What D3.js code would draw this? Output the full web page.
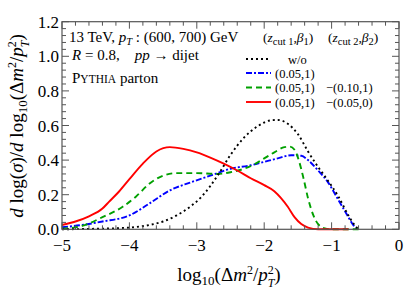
<!DOCTYPE html>
<html><head><meta charset="utf-8">
<script src="https://cdn.jsdelivr.net/npm/d3@7"></script>
<style>
body{margin:0;background:#fff;}
svg{display:block;font-family:"Liberation Serif","DejaVu Serif",serif;}
text{white-space:pre;}
</style></head>
<body><svg id="c" width="407" height="292"></svg>
<script>
// ---- data ----
const seriesNames = ["w/o", "(0.05,1)", "(0.05,1)", "(0.05,1)"];
const seriesNames2 = ["", "", "−(0.10,1)", "−(0.05,0)"];
const seriesColors = ["#000000", "#0000ff", "#00a000", "#ff0000"];
const xWo   = [-5,-4.5,-4,-3.7,-3.5,-3.3,-3.1,-2.95,-2.8,-2.66,-2.5,-2.3,-2.1,-1.9,-1.8,-1.65,-1.5,-1.35,-1.2,-1.07,-0.9,-0.75,-0.65,-0.6];
const yWo   = [0.0,0.003,0.01,0.025,0.045,0.08,0.13,0.18,0.25,0.33,0.43,0.53,0.595,0.63,0.632,0.61,0.55,0.45,0.36,0.29,0.19,0.08,0.02,0.0];
const xBlue = [-5,-4.7,-4.4,-4,-3.7,-3.4,-3.1,-2.8,-2.5,-2.2,-2.0,-1.8,-1.6,-1.45,-1.35,-1.2,-1.05,-0.9,-0.78,-0.68,-0.62];
const yBlue = [0.012,0.025,0.045,0.08,0.15,0.225,0.27,0.31,0.35,0.37,0.39,0.41,0.428,0.425,0.4,0.34,0.27,0.17,0.09,0.025,0.0];
const xGreen = [-5,-4.7,-4.4,-4.1,-3.9,-3.7,-3.5,-3.3,-3.0,-2.7,-2.5,-2.3,-2.15,-2.0,-1.85,-1.7,-1.62,-1.55,-1.48,-1.42,-1.35,-1.27,-1.2,-1.1,-1.0,-0.6];
const yGreen = [0.003,0.02,0.07,0.13,0.19,0.265,0.31,0.325,0.325,0.32,0.33,0.35,0.375,0.41,0.445,0.475,0.478,0.46,0.39,0.3,0.18,0.08,0.03,0.005,0.0,0.0];
const xRed = [-5,-4.8,-4.6,-4.4,-4.3,-4.15,-4.0,-3.8,-3.6,-3.4,-3.2,-3.0,-2.8,-2.6,-2.4,-2.2,-2.0,-1.85,-1.75,-1.65,-1.55,-1.45,-1.35,-1.2,-0.75];
const yRed = [0.025,0.045,0.075,0.12,0.16,0.22,0.29,0.38,0.45,0.475,0.465,0.445,0.415,0.38,0.34,0.295,0.255,0.22,0.18,0.13,0.07,0.03,0.01,0.0,0.0];
const xTickLabels = ["−5","−4","−3","−2","−1","0"];
const yTickLabels = ["0.0","0.2","0.4","0.6","0.8","1.0","1.2"];
const xTickValues = [-5,-4,-3,-2,-1,0];
const yTickValues = [0,0.2,0.4,0.6,0.8,1.0,1.2];

const svg = d3.select("#c");
const L=62, R=399, T=21.7, B=229.3;
const x = d3.scaleLinear().domain([-5,0]).range([L,R]);
const y = d3.scaleLinear().domain([0,1.2]).range([B,T]);

// curves
const series = [[xWo,yWo],[xBlue,yBlue],[xGreen,yGreen],[xRed,yRed]];
const dashes = ["2,3","6,2,2,2","6,4",null];
const line = d3.line().x(d=>x(d[0])).y(d=>y(d[1])).curve(d3.curveMonotoneX);
const g = svg.append("g");
[1,2,3,0].forEach(i=>{
  const pts = series[i][0].map((v,k)=>[v, series[i][1][k]]);
  const p = g.append("path").attr("d", line(pts)).attr("fill","none")
    .attr("stroke", seriesColors[i]).attr("stroke-width", 1.9);
  if (dashes[i]) p.attr("stroke-dasharray", dashes[i]);
});

// frame + ticks
const minorX = d3.range(-5, 0.001, 0.2).map(v=>+v.toFixed(2));
const minorY = d3.range(0, 1.2001, 0.04).map(v=>+v.toFixed(2));
const ax = svg.append("g").attr("stroke","#555").attr("stroke-width",1);
function isMajor(v,step){return Math.abs(v/step - Math.round(v/step))<1e-6;}
minorX.forEach(v=>{
  const len = isMajor(v,1)?7:4;
  ax.append("line").attr("x1",x(v)).attr("x2",x(v)).attr("y1",B).attr("y2",B-len);
  ax.append("line").attr("x1",x(v)).attr("x2",x(v)).attr("y1",T).attr("y2",T+len);
});
minorY.forEach(v=>{
  const len = isMajor(v,0.2)?7:4;
  ax.append("line").attr("y1",y(v)).attr("y2",y(v)).attr("x1",L).attr("x2",L+len);
  ax.append("line").attr("y1",y(v)).attr("y2",y(v)).attr("x1",R).attr("x2",R-len);
});
svg.append("rect").attr("x",L).attr("y",T).attr("width",R-L).attr("height",B-T)
  .attr("fill","none").attr("stroke","#555").attr("stroke-width",1.2);

// tick labels
xTickValues.forEach((v,i)=>{
  svg.append("text").attr("x",x(v)).attr("y",B+22).attr("text-anchor","middle")
    .attr("font-size",17).text(xTickLabels[i]);
});
yTickValues.forEach((v,i)=>{
  svg.append("text").attr("x",L-3).attr("y",y(v)+6).attr("text-anchor","end")
    .attr("font-size",17).text(yTickLabels[i]);
});

// helper for rich text
function rich(sel, parts){
  parts.forEach(p=>{
    const t = sel.append("tspan").text(p.t);
    if (p.i) t.attr("font-style","italic");
    if (p.s) t.attr("font-size", p.s);
    if (p.dy) t.attr("dy", p.dy);
    if (p.dx) t.attr("dx", p.dx);
  });
}
const tail = [{t:"(Δ",dy:-4},{t:"m",i:1},{t:"2",s:12,dy:-7.5},{t:"/",dy:7.5},{t:"p",i:1},{t:"2",s:12,dy:-7.5},{t:"T",s:12,i:1,dy:13,dx:-6},{t:")",dy:-5.5}];

// x axis title
const xt = svg.append("text").attr("x",229).attr("y",281).attr("text-anchor","middle").attr("font-size",19);
rich(xt,[{t:"log"},{t:"10",s:13,dy:4}].concat(tail));

// y axis title
const yt = svg.append("text").attr("transform","translate(23,126) rotate(-90)").attr("text-anchor","middle").attr("font-size",19);
rich(yt,[{t:"d",i:1},{t:" log("},{t:"σ",i:1},{t:")/"},{t:"d",i:1},{t:" log"},{t:"10",s:13,dy:4}].concat(tail));

// annotations
const a1 = svg.append("text").attr("x",69).attr("y",42).attr("font-size",15);
rich(a1,[{t:"13 TeV, "},{t:"p",i:1},{t:"T",i:1,s:10.5,dy:3},{t:" : (600, 700) GeV",dy:-3}]);
const a2 = svg.append("text").attr("x",72).attr("y",60).attr("font-size",15);
rich(a2,[{t:"R",i:1},{t:" = 0.8,    "},{t:"pp",i:1},{t:" → dijet"}]);
const a3 = svg.append("text").attr("x",72).attr("y",83).attr("font-size",15);
rich(a3,[{t:"P"},{t:"YTHIA",s:11.5},{t:" parton"}]);

// legend header
const lh1 = svg.append("text").attr("x",263).attr("y",42).attr("font-size",13.5);
rich(lh1,[{t:"("},{t:"z",i:1},{t:"cut 1",s:10.5,dy:3},{t:",",dy:-3},{t:"β",i:1},{t:"1",s:10.5,dy:3},{t:")",dy:-3}]);
const lh2 = svg.append("text").attr("x",328).attr("y",42).attr("font-size",13.5);
rich(lh2,[{t:"("},{t:"z",i:1},{t:"cut 2",s:10.5,dy:3},{t:",",dy:-3},{t:"β",i:1},{t:"2",s:10.5,dy:3},{t:")",dy:-3}]);

const legY = [59, 73, 87.5, 102];
const legTextX = [288, 275, 275, 275];
seriesNames.forEach((n,i)=>{
  const l = svg.append("line").attr("x1",246).attr("x2",271).attr("y1",legY[i]).attr("y2",legY[i])
    .attr("stroke",seriesColors[i]).attr("stroke-width",1.9);
  if (dashes[i]) l.attr("stroke-dasharray",dashes[i]);
  svg.append("text").attr("x",legTextX[i]).attr("y",legY[i]+4.5).attr("font-size",12.5).text(n);
  if (seriesNames2[i]) svg.append("text").attr("x",326).attr("y",legY[i]+4.5).attr("font-size",12.5).text(seriesNames2[i]);
});
</script></body></html>
